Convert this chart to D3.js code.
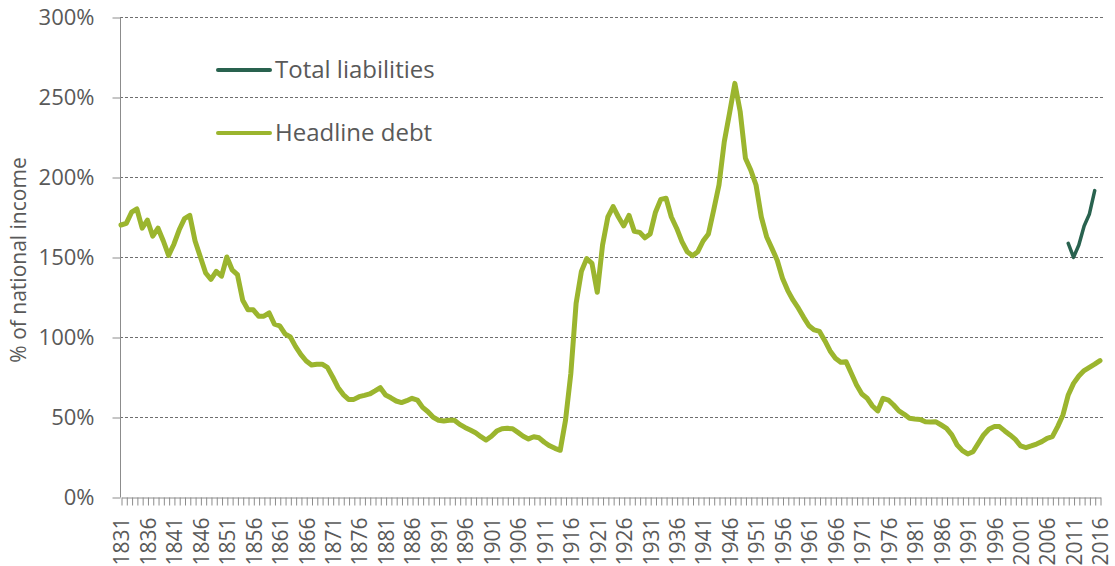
<!DOCTYPE html>
<html>
<head>
<meta charset="utf-8">
<script src="https://cdn.jsdelivr.net/npm/d3@7"></script>
<style>
  body { margin: 0; background: #fff; }
  text { font-family: "Open Sans", Lato, sans-serif; fill: #595959; }
</style>
</head>
<body>
<svg id="chart" width="1115" height="566"></svg>
<script>
// headline debt, % of national income, 1831..2016 (one value per year)
var firstYear = 1831, lastYear = 2016;
var headlineDebt = [
  170, 171, 178, 180, 168, 173, 163, 168, 160, 151,   // 1831-1840
  158, 167, 174, 176, 160, 150, 140, 136, 141, 138,   // 1841-1850
  150, 142, 139, 123, 117, 117, 113, 113, 115, 108,   // 1851-1860
  107, 102, 100, 94, 89, 85, 82.5, 83, 83, 81,        // 1861-1870
  75, 68.5, 64, 61, 61, 62.7, 63.5, 64.4, 66.3, 68.3, // 1871-1880
  63.7, 62, 60, 59, 60.2, 61.7, 60.6, 56, 53.3, 49.8, // 1881-1890
  48, 47.5, 48, 48, 45.4, 43.5, 41.9, 40.2, 37.7, 35.6, // 1891-1900
  38, 41.2, 42.7, 42.9, 42.7, 40.4, 38, 36.3, 37.7, 37, // 1901-1910
  34.2, 32, 30.4, 29.2, 48, 77, 121, 141, 149, 146,   // 1911-1920
  128, 157.5, 175, 181.5, 175, 169.4, 176, 166, 165.4, 162, // 1921-1930
  164.4, 178, 186, 186.7, 175, 168, 159.6, 153.3, 150.8, 153.3, // 1931-1940
  160, 164.4, 179.4, 195, 222, 240, 258.5, 241, 211.7, 204.4, // 1941-1950
  195, 175, 162.7, 155.4, 148, 136.7, 129, 123, 118, 112.3, // 1951-1960
  107, 104.4, 103.5, 97.7, 91.3, 86.7, 84.2, 84.6, 77.3, 70, // 1961-1970
  64.4, 61.7, 56.9, 53.8, 61.7, 60.6, 57.5, 53.8, 51.7, 49.2, // 1971-1980
  48.8, 48.5, 47, 46.9, 47, 45, 42.9, 38.8, 32.5, 29, // 1981-1990
  26.9, 28.3, 33.5, 38.8, 42.3, 44, 44, 41.3, 38.8, 36, // 1991-2000
  31.9, 30.8, 31.9, 33.1, 34.6, 36.7, 37.7, 44, 51.3, 63.8, // 2001-2010
  71, 75.6, 79, 81, 83, 85.2                          // 2011-2016
];
// total liabilities, 2010..2015
var liabilitiesStart = 2010;
var totalLiabilities = [158.5, 149.8, 157.5, 169.4, 176.9, 191.5];

var yTicks = [0, 50, 100, 150, 200, 250, 300];
var legendNames = ["Total liabilities", "Headline debt"];
var colorDark = "#29624f", colorLight = "#9bb52e";

var svg = d3.select("#chart");
var x = d3.scaleLinear().domain([firstYear, lastYear]).range([121, 1100]);
var y = d3.scaleLinear().domain([0, 300]).range([497, 17]);

var headlinePts = headlineDebt.map(function(v, i){ return {year: firstYear + i, value: v}; });
var liabPts = totalLiabilities.map(function(v, i){ return {year: liabilitiesStart + i, value: v}; });

// dashed gridlines
svg.append("g").selectAll("line")
  .data(yTicks.filter(function(d){ return d > 0; }))
  .enter().append("line")
  .attr("x1", 120).attr("x2", 1105)
  .attr("y1", function(d){ return y(d) + 0.5; })
  .attr("y2", function(d){ return y(d) + 0.5; })
  .style("stroke", "#6f6f6f")
  .style("stroke-width", 1)
  .style("stroke-dasharray", "3,2");

// y axis
var yAxis = svg.append("g")
  .attr("transform", "translate(120.5,0.5)")
  .call(d3.axisLeft(y).tickValues(yTicks).tickSize(8).tickPadding(18)
    .tickFormat(function(d){ return d + "%"; }));
yAxis.select(".domain").attr("stroke", "#8c8c8c").attr("d", "M0," + y(300) + "V" + y(0));
yAxis.selectAll(".tick line").attr("stroke", "#8c8c8c");
yAxis.selectAll(".tick text").style("font-size", "22px").style("fill", "#595959");

// x axis: a tick per year, label every 5 years
var allYears = d3.range(firstYear, lastYear + 1);
var xAxis = svg.append("g")
  .attr("transform", "translate(0.5,497.5)")
  .call(d3.axisBottom(x).tickValues(allYears).tickSize(8).tickSizeOuter(0)
    .tickFormat(function(d){ return (d - firstYear) % 5 === 0 ? d : ""; }));
xAxis.select(".domain").attr("stroke", "#8c8c8c");
xAxis.selectAll(".tick line").attr("stroke", "#8c8c8c");
xAxis.selectAll(".tick text")
  .style("font-size", "21px").style("fill", "#595959")
  .attr("transform", "rotate(-90)")
  .attr("text-anchor", "end")
  .attr("x", -20).attr("y", 0).attr("dy", "0.35em");

// axis title
svg.append("text")
  .attr("transform", "translate(26,260) rotate(-90)")
  .attr("text-anchor", "middle")
  .style("font-size", "21px")
  .text("% of national income");

var line = d3.line()
  .x(function(d){ return x(d.year); })
  .y(function(d){ return y(d.value); });

svg.append("path").datum(headlinePts)
  .attr("d", line)
  .style("fill", "none").style("stroke", colorLight)
  .style("stroke-width", 5).style("stroke-linejoin", "round").style("stroke-linecap", "round");

svg.append("path").datum(liabPts)
  .attr("d", line)
  .style("fill", "none").style("stroke", colorDark)
  .style("stroke-width", 3.5).style("stroke-linejoin", "round").style("stroke-linecap", "round");

// legend
var legend = svg.append("g").selectAll("g")
  .data(legendNames)
  .enter().append("g")
  .attr("transform", function(d, i){ return "translate(218," + (70 + i * 63) + ")"; });
legend.append("line")
  .attr("x1", 0).attr("x2", 52)
  .style("stroke", function(d, i){ return i === 0 ? colorDark : colorLight; })
  .style("stroke-width", 4).style("stroke-linecap", "round");
legend.append("text")
  .attr("x", 57).attr("dy", "0.35em")
  .style("font-size", "24px")
  .text(function(d){ return d; });
</script>
</body>
</html>
